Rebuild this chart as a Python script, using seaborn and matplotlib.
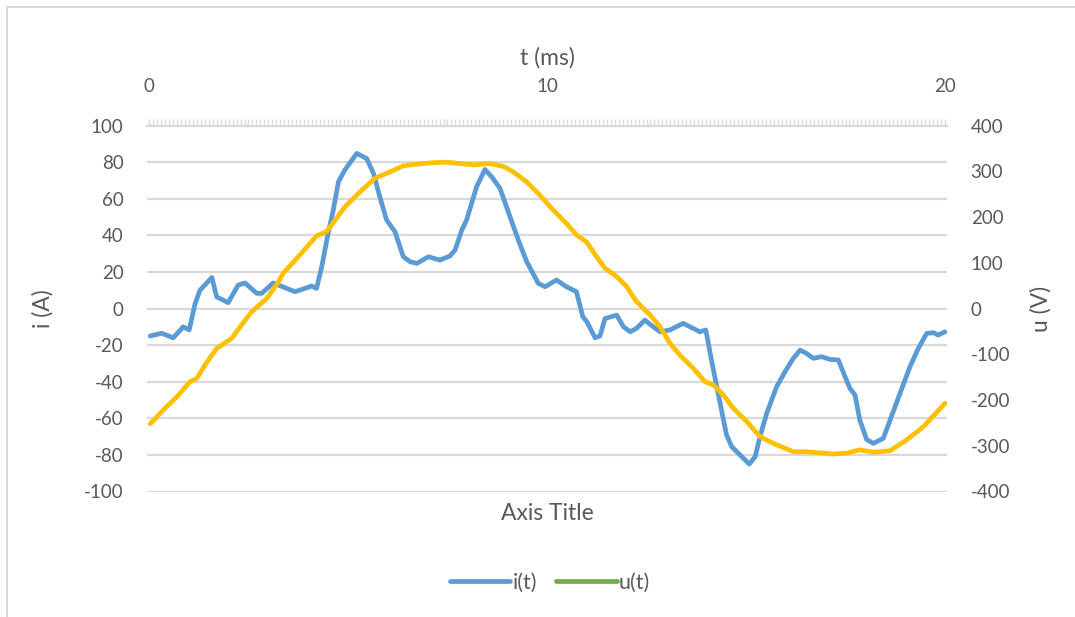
import matplotlib
matplotlib.use("Agg")
import matplotlib.pyplot as plt
from matplotlib.lines import Line2D
from matplotlib.ticker import MultipleLocator
import seaborn as sns
import numpy as np

# ---- data ----
t_i = [0.03, 0.32, 0.61, 0.86, 1.01, 1.16, 1.28, 1.58, 1.70, 1.99, 2.24, 2.41, 2.71, 2.83,
       3.12, 3.29, 3.67, 4.09, 4.21, 4.34, 4.50, 4.63, 4.76, 4.92, 5.22, 5.47, 5.64, 5.80,
       5.97, 6.18, 6.39, 6.56, 6.73, 7.02, 7.31, 7.56, 7.69, 7.86, 7.98, 8.23, 8.44, 8.61,
       8.82, 9.07, 9.28, 9.49, 9.78, 9.95, 10.24, 10.49, 10.74, 10.90, 11.00, 11.21, 11.33,
       11.46, 11.75, 11.92, 12.09, 12.25, 12.46, 12.67, 12.84, 13.09, 13.42, 13.67, 13.84,
       13.99, 14.14, 14.35, 14.51, 14.64, 14.85, 15.08, 15.23, 15.35, 15.52, 15.77, 15.98,
       16.19, 16.36, 16.52, 16.69, 16.90, 17.11, 17.32, 17.49, 17.61, 17.74, 17.86, 18.03,
       18.20, 18.45, 18.62, 18.87, 19.12, 19.33, 19.54, 19.71, 19.83, 20.0]
i_vals = [-15, -13.5, -16, -10, -11.7, 2.8, 10, 17, 6.4, 3.2, 12.8, 14, 8.3, 8.3,
          14, 12.5, 9.2, 12.3, 11, 22.8, 41, 53.8, 69.3, 75.7, 84.8, 82, 73.9, 61,
          48.4, 42, 28.3, 25.6, 24.7, 28.3, 26.5, 28.7, 32, 42.9, 48.4, 66.5, 76, 72,
          65.7, 50.2, 37.4, 25.6, 13.8, 11.9, 15.6, 11.9, 9.2, -4.5, -7.2, -16, -15,
          -5.4, -3.6, -9.9, -12.7, -10.8, -6.3, -10, -12.7, -11.7, -8.1, -10.8, -12.7,
          -11.7, -29, -51.8, -69, -75.5, -80, -85, -81, -70, -57.3, -42.7, -34.5,
          -27.2, -22.7, -24.5, -27.2, -26.3, -27.8, -28.1, -37.3, -43.6, -47.3, -61, -71.5,
          -73.7, -70.9, -61, -46.3, -31.8, -21.7, -13.6, -13.2, -14.5, -12.7]

t_u = [0.03, 0.40, 0.70, 1.03, 1.20, 1.41, 1.70, 2.08, 2.29, 2.58, 2.96, 3.25, 3.37, 3.79,
       4.21, 4.46, 4.92, 5.30, 5.68, 6.06, 6.39, 6.64, 7.14, 7.48, 7.81, 8.19, 8.53, 8.90,
       9.15, 9.49, 9.82, 10.16, 10.49, 10.74, 10.99, 11.25, 11.46, 11.75, 12.00, 12.25,
       12.59, 12.84, 13.09, 13.34, 13.68, 13.97, 14.18, 14.43, 14.68, 15.02, 15.35, 15.69,
       16.19, 16.52, 17.19, 17.53, 17.86, 18.20, 18.62, 19.04, 19.46, 20.0]
u_vals = [-252, -218, -193, -160, -153, -123, -87, -65, -40, -7, 22, 58, 77, 117,
          159, 168, 222, 255, 285, 299, 312, 315, 319, 320, 317, 314, 317, 311,
          299, 277, 248, 215, 186, 161, 146, 113, 88, 70, 48, 15,
          -14, -40, -76, -102, -131, -160, -167, -189, -218, -247, -280, -295,
          -313, -313, -318, -316, -309, -314, -311, -287, -258, -207]

i_ticks = list(range(-100, 101, 20))
u_ticks = list(range(-400, 401, 100))
t_ticks = [0, 10, 20]
series_names = ["i(t)", "u(t)"]

# ---- style ----
sns.set_theme(style="white")
plt.rcParams["font.family"] = ["Lato", "DejaVu Sans"]
TXT = "#595959"
GRID = "#d9d9d9"
BLUE = "#5B9BD5"
YELLOW = "#FFC000"
GREEN = "#70AD47"
FS = 13.5
FT = 16.5

fig = plt.figure(figsize=(10.75, 6.17), dpi=100)
W, H = 1075, 617
L, R, T, B = 147, 947, 125.6, 491.5
ax = fig.add_axes([L / W, 1 - B / H, (R - L) / W, (B - T) / H])

sns.lineplot(x=t_i, y=i_vals, ax=ax, color=BLUE, lw=3.4, legend=False,
             solid_capstyle="round", solid_joinstyle="round")

ax.set_xlim(-0.05, 20.05)
ax.set_ylim(-100, 100)
ax.set_yticks(i_ticks)
ax.set_yticklabels([str(v) for v in i_ticks])
ax.grid(axis="y", color=GRID, lw=1.6)
ax.grid(axis="x", visible=False)
for s in ["left", "right", "bottom"]:
    ax.spines[s].set_visible(False)
ax.spines["top"].set_color(GRID)
ax.spines["top"].set_linewidth(1.6)

ax.xaxis.tick_top()
ax.xaxis.set_label_position("top")
ax.set_xticks(t_ticks)
ax.set_xticklabels([str(v) for v in t_ticks])
ax.xaxis.set_minor_locator(MultipleLocator(0.1))
ax.tick_params(axis="x", which="both", top=True, bottom=False, direction="out",
               length=5, width=1, color=GRID, labelsize=FS, labelcolor=TXT, pad=17)
ax.tick_params(axis="y", length=0, labelsize=FS, labelcolor=TXT, pad=17)
ax.set_xlabel("t (ms)", fontsize=FT, color=TXT, labelpad=10)
ax.set_ylabel("i (A)", fontsize=FT, color=TXT, labelpad=22)
ax.set_axisbelow(True)

ax2 = ax.twinx()
sns.lineplot(x=t_u, y=u_vals, ax=ax2, color=YELLOW, lw=3.4, legend=False,
             solid_capstyle="round", solid_joinstyle="round")
ax2.set_ylim(-400, 400)
ax2.set_yticks(u_ticks)
ax2.set_yticklabels([str(v) for v in u_ticks])
ax2.grid(False)
for s in ["left", "right", "bottom", "top"]:
    ax2.spines[s].set_visible(False)
ax2.tick_params(axis="y", length=0, labelsize=FS, labelcolor=TXT, pad=17)
ax2.set_ylabel("u (V)", fontsize=FT, color=TXT, labelpad=14, rotation=90)
ax2.set_xlim(-0.05, 20.05)

fig.text(547 / W, 1 - 513 / H, "Axis Title", ha="center", va="center",
         fontsize=FT, color=TXT)

handles = [Line2D([], [], color=BLUE, lw=3.4, solid_capstyle="round"),
           Line2D([], [], color=GREEN, lw=3.4, solid_capstyle="round")]
fig.legend(handles, series_names, loc="center", bbox_to_anchor=(550 / W, 1 - 583 / H),
           ncol=2, frameon=False, fontsize=15.5, labelcolor=TXT, handlelength=2.8,
           handletextpad=0.1, columnspacing=0.9)

# chart-area border (top and left edges visible)
fig.add_artist(Line2D([7 / W, 1.0], [1 - 7 / H, 1 - 7 / H], color=GRID, lw=1.4,
                      transform=fig.transFigure))
fig.add_artist(Line2D([7 / W, 7 / W], [0.0, 1 - 7 / H], color=GRID, lw=1.4,
                      transform=fig.transFigure))

fig.savefig("out.png", dpi=100, facecolor="white")
